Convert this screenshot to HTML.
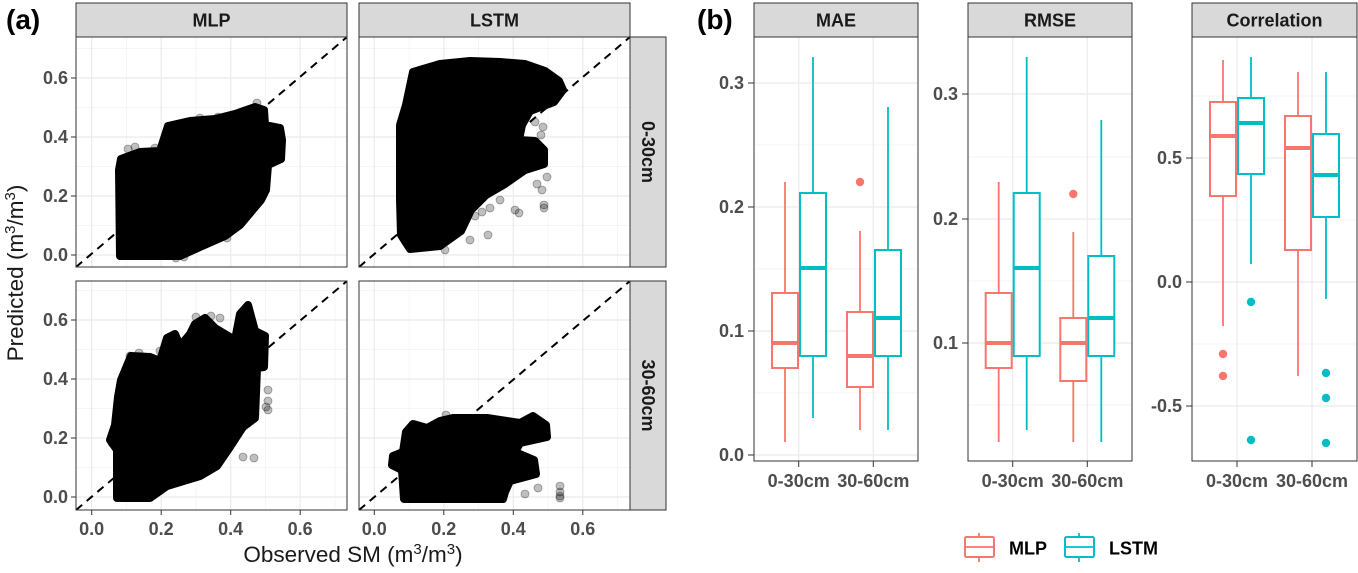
<!DOCTYPE html>
<html><head><meta charset="utf-8"><style>
html,body{margin:0;padding:0;background:#fff;}
svg{display:block;}
.tk{font-family:"Liberation Sans",sans-serif;font-weight:bold;font-size:18px;fill:#4d4d4d;}
.st{font-family:"Liberation Sans",sans-serif;font-weight:bold;font-size:18px;fill:#1a1a1a;}
.ti{font-family:"Liberation Sans",sans-serif;font-size:22.5px;fill:#1a1a1a;}
.lg{font-family:"Liberation Sans",sans-serif;font-weight:bold;font-size:18px;fill:#000;}
.pl{font-family:"Liberation Sans",sans-serif;font-weight:bold;font-size:28px;fill:#000;}
.gM{stroke:#ebebeb;stroke-width:1.2;}
.gm{stroke:#f2f2f2;stroke-width:0.7;}
.fz{fill:#000;fill-opacity:0.25;stroke:#000;stroke-opacity:0.35;stroke-width:0.8;}
.blob{fill:#000;stroke:#000;stroke-width:8;stroke-linejoin:round;}
.m{stroke:#F8766D;fill:#fff;stroke-width:2;}
.l{stroke:#00BFC4;fill:#fff;stroke-width:2;}
.mw{stroke:#F8766D;stroke-width:1.8;}
.lw{stroke:#00BFC4;stroke-width:1.8;}
.mm{stroke:#F8766D;stroke-width:4;}
.lm{stroke:#00BFC4;stroke-width:4;}
</style></head><body>
<svg width="1358" height="573" viewBox="0 0 1358 573" xmlns="http://www.w3.org/2000/svg">
<defs>
<clipPath id="c1"><rect x="76" y="37" width="271" height="230"/></clipPath>
<clipPath id="c2"><rect x="359" y="37" width="271" height="230"/></clipPath>
<clipPath id="c3"><rect x="76" y="281" width="271" height="229"/></clipPath>
<clipPath id="c4"><rect x="359" y="281" width="271" height="229"/></clipPath>
</defs>
<rect width="1358" height="573" fill="#fff"/>

<!-- panel labels -->
<text class="pl" x="6" y="29">(a)</text>
<text class="pl" x="697" y="29">(b)</text>

<!-- ============ (a) scatter panels ============ -->
<!-- MLP top -->
<g clip-path="url(#c1)">
<rect x="76" y="37" width="271" height="230" fill="#fff"/>
<g class="gm"><line x1="76" x2="347" y1="225.5" y2="225.5"/><line x1="76" x2="347" y1="166.5" y2="166.5"/><line x1="76" x2="347" y1="107.5" y2="107.5"/><line x1="76" x2="347" y1="48.5" y2="48.5"/>
<line y1="37" y2="267" x1="126.5" x2="126.5"/><line y1="37" y2="267" x1="196" x2="196"/><line y1="37" y2="267" x1="265.5" x2="265.5"/><line y1="37" y2="267" x1="335" x2="335"/></g>
<g class="gM"><line x1="76" x2="347" y1="255" y2="255"/><line x1="76" x2="347" y1="196" y2="196"/><line x1="76" x2="347" y1="137" y2="137"/><line x1="76" x2="347" y1="78" y2="78"/>
<line y1="37" y2="267" x1="91.7" x2="91.7"/><line y1="37" y2="267" x1="161.2" x2="161.2"/><line y1="37" y2="267" x1="230.7" x2="230.7"/><line y1="37" y2="267" x1="300.2" x2="300.2"/></g>
<polygon class="blob" points="119,170 121,159 140,152 160,151 168,126 190,121 215,119 235,114 255,107 264,110 265,125 280,128 282,140 281,159 268,165 266,190 261,200 240,225 225,236 200,247 180,256 120,256"/>
<g class="fz"><circle cx="257" cy="103" r="4"/><circle cx="218" cy="117" r="4"/><circle cx="222" cy="121" r="4"/><circle cx="135" cy="147" r="4"/><circle cx="128" cy="149" r="4"/><circle cx="227" cy="238" r="4"/><circle cx="176" cy="258" r="4"/><circle cx="184" cy="257" r="4"/><circle cx="262" cy="197" r="4"/><circle cx="200" cy="118" r="4"/><circle cx="155" cy="148" r="4"/></g>
<line x1="76" y1="267" x2="347" y2="37" stroke="#000" stroke-width="2" stroke-dasharray="8 6"/>
</g>
<rect x="76" y="37" width="271" height="230" fill="none" stroke="#333" stroke-width="1"/>

<!-- LSTM top -->
<g clip-path="url(#c2)">
<rect x="359" y="37" width="271" height="230" fill="#fff"/>
<g class="gm"><line x1="359" x2="630" y1="225.5" y2="225.5"/><line x1="359" x2="630" y1="166.5" y2="166.5"/><line x1="359" x2="630" y1="107.5" y2="107.5"/><line x1="359" x2="630" y1="48.5" y2="48.5"/>
<line y1="37" y2="267" x1="409.1" x2="409.1"/><line y1="37" y2="267" x1="478.6" x2="478.6"/><line y1="37" y2="267" x1="548.1" x2="548.1"/><line y1="37" y2="267" x1="617.6" x2="617.6"/></g>
<g class="gM"><line x1="359" x2="630" y1="255" y2="255"/><line x1="359" x2="630" y1="196" y2="196"/><line x1="359" x2="630" y1="137" y2="137"/><line x1="359" x2="630" y1="78" y2="78"/>
<line y1="37" y2="267" x1="374.3" x2="374.3"/><line y1="37" y2="267" x1="443.8" x2="443.8"/><line y1="37" y2="267" x1="513.3" x2="513.3"/><line y1="37" y2="267" x1="582.8" x2="582.8"/></g>
<polygon class="blob" points="400,125 406,105 413,72 440,64 470,61 500,62 525,64 545,71 559,81 563,90 554,102 530,111 522,125 519,140 535,141 544,150 544,164 525,170 505,184 486,195 471,210 461,231 440,246 410,249 401,235 400,200"/>
<g class="fz"><circle cx="475" cy="216" r="4"/><circle cx="482" cy="212" r="4"/><circle cx="490" cy="208" r="4"/><circle cx="515" cy="210" r="4"/><circle cx="519" cy="213" r="4"/><circle cx="544" cy="205" r="4"/><circle cx="544" cy="208" r="4"/><circle cx="542" cy="190" r="4"/><circle cx="537" cy="184" r="4"/><circle cx="547" cy="177" r="4"/><circle cx="541" cy="135" r="4"/><circle cx="543" cy="127" r="4"/><circle cx="470" cy="240" r="4"/><circle cx="488" cy="235" r="4"/><circle cx="445" cy="250" r="4"/><circle cx="535" cy="122" r="4"/><circle cx="500" cy="200" r="4"/></g>
<line x1="359" y1="267" x2="630" y2="37" stroke="#000" stroke-width="2" stroke-dasharray="8 6"/>
</g>
<rect x="359" y="37" width="271" height="230" fill="none" stroke="#333" stroke-width="1"/>

<!-- MLP bottom -->
<g clip-path="url(#c3)">
<rect x="76" y="281" width="271" height="229" fill="#fff"/>
<g class="gm"><line x1="76" x2="347" y1="467.5" y2="467.5"/><line x1="76" x2="347" y1="408.5" y2="408.5"/><line x1="76" x2="347" y1="349.5" y2="349.5"/><line x1="76" x2="347" y1="290.5" y2="290.5"/>
<line y1="281" y2="510" x1="126.5" x2="126.5"/><line y1="281" y2="510" x1="196" x2="196"/><line y1="281" y2="510" x1="265.5" x2="265.5"/><line y1="281" y2="510" x1="335" x2="335"/></g>
<g class="gM"><line x1="76" x2="347" y1="497" y2="497"/><line x1="76" x2="347" y1="438" y2="438"/><line x1="76" x2="347" y1="379" y2="379"/><line x1="76" x2="347" y1="320" y2="320"/>
<line y1="281" y2="510" x1="91.7" x2="91.7"/><line y1="281" y2="510" x1="161.2" x2="161.2"/><line y1="281" y2="510" x1="230.7" x2="230.7"/><line y1="281" y2="510" x1="300.2" x2="300.2"/></g>
<polygon class="blob" points="115,425 110,440 117,450 117,498 150,498 167,486 200,476 217,466 230,447 243,427 255,418 257,368 264,367 265,336 255,331 248,305 240,314 235,340 225,334 215,328 205,318 195,324 190,334 180,346 175,334 167,338 160,361 150,357 131,356 121,380 118,397"/>
<g class="fz"><circle cx="268" cy="390" r="4"/><circle cx="268" cy="401" r="4"/><circle cx="266" cy="407" r="4"/><circle cx="268" cy="410" r="4"/><circle cx="243" cy="457" r="4"/><circle cx="254" cy="458" r="4"/><circle cx="112" cy="443" r="4"/><circle cx="130" cy="356" r="4"/><circle cx="139" cy="353" r="4"/><circle cx="196" cy="317" r="4"/><circle cx="211" cy="316" r="4"/><circle cx="220" cy="318" r="4"/><circle cx="200" cy="474" r="4"/><circle cx="160" cy="351" r="4"/></g>
<line x1="76" y1="510" x2="347" y2="281" stroke="#000" stroke-width="2" stroke-dasharray="8 6"/>
</g>
<rect x="76" y="281" width="271" height="229" fill="none" stroke="#333" stroke-width="1"/>

<!-- LSTM bottom -->
<g clip-path="url(#c4)">
<rect x="359" y="281" width="271" height="229" fill="#fff"/>
<g class="gm"><line x1="359" x2="630" y1="467.5" y2="467.5"/><line x1="359" x2="630" y1="408.5" y2="408.5"/><line x1="359" x2="630" y1="349.5" y2="349.5"/><line x1="359" x2="630" y1="290.5" y2="290.5"/>
<line y1="281" y2="510" x1="409.1" x2="409.1"/><line y1="281" y2="510" x1="478.6" x2="478.6"/><line y1="281" y2="510" x1="548.1" x2="548.1"/><line y1="281" y2="510" x1="617.6" x2="617.6"/></g>
<g class="gM"><line x1="359" x2="630" y1="497" y2="497"/><line x1="359" x2="630" y1="438" y2="438"/><line x1="359" x2="630" y1="379" y2="379"/><line x1="359" x2="630" y1="320" y2="320"/>
<line y1="281" y2="510" x1="374.3" x2="374.3"/><line y1="281" y2="510" x1="443.8" x2="443.8"/><line y1="281" y2="510" x1="513.3" x2="513.3"/><line y1="281" y2="510" x1="582.8" x2="582.8"/></g>
<polygon class="blob" points="406,432 413,424 427,428 440,421 453,418 487,418 520,423 533,416 546,425 547,437 520,443 515,452 534,460 536,474 510,481 505,492 503,499 404,499 402,470 392,465 393,456 403,452"/>
<g class="fz"><circle cx="525" cy="494" r="4"/><circle cx="538" cy="488" r="4"/><circle cx="560" cy="486" r="4"/><circle cx="560" cy="492" r="4"/><circle cx="560" cy="496" r="4"/><circle cx="560" cy="498" r="4"/><circle cx="530" cy="470" r="4"/><circle cx="534" cy="464" r="4"/><circle cx="446" cy="415" r="4"/></g>
<line x1="359" y1="510" x2="630" y2="281" stroke="#000" stroke-width="2" stroke-dasharray="8 6"/>
</g>
<rect x="359" y="281" width="271" height="229" fill="none" stroke="#333" stroke-width="1"/>

<!-- strips (a) -->
<rect x="76" y="3" width="271" height="34" fill="#d9d9d9" stroke="#333" stroke-width="1"/>
<text class="st" x="211.5" y="26.5" text-anchor="middle">MLP</text>
<rect x="359" y="3" width="271" height="34" fill="#d9d9d9" stroke="#333" stroke-width="1"/>
<text class="st" x="494.5" y="26.5" text-anchor="middle">LSTM</text>
<rect x="630" y="37" width="36" height="230" fill="#d9d9d9" stroke="#333" stroke-width="1"/>
<text class="st" transform="translate(642,152) rotate(90)" text-anchor="middle">0-30cm</text>
<rect x="630" y="281" width="36" height="229" fill="#d9d9d9" stroke="#333" stroke-width="1"/>
<text class="st" transform="translate(642,395.5) rotate(90)" text-anchor="middle">30-60cm</text>

<!-- y ticks (a) -->
<g stroke="#333" stroke-width="1">
<line x1="71" x2="76" y1="78" y2="78"/><line x1="71" x2="76" y1="137" y2="137"/><line x1="71" x2="76" y1="196" y2="196"/><line x1="71" x2="76" y1="255" y2="255"/>
<line x1="71" x2="76" y1="320" y2="320"/><line x1="71" x2="76" y1="379" y2="379"/><line x1="71" x2="76" y1="438" y2="438"/><line x1="71" x2="76" y1="497" y2="497"/>
<line y1="510" y2="515" x1="91.7" x2="91.7"/><line y1="510" y2="515" x1="161.2" x2="161.2"/><line y1="510" y2="515" x1="230.7" x2="230.7"/><line y1="510" y2="515" x1="300.2" x2="300.2"/>
<line y1="510" y2="515" x1="374.3" x2="374.3"/><line y1="510" y2="515" x1="443.8" x2="443.8"/><line y1="510" y2="515" x1="513.3" x2="513.3"/><line y1="510" y2="515" x1="582.8" x2="582.8"/>
</g>
<g class="tk" text-anchor="end">
<text x="68" y="84">0.6</text><text x="68" y="143">0.4</text><text x="68" y="202">0.2</text><text x="68" y="261">0.0</text>
<text x="68" y="326">0.6</text><text x="68" y="385">0.4</text><text x="68" y="444">0.2</text><text x="68" y="503">0.0</text>
</g>
<g class="tk" text-anchor="middle">
<text x="91.7" y="535">0.0</text><text x="161.2" y="535">0.2</text><text x="230.7" y="535">0.4</text><text x="300.2" y="535">0.6</text>
<text x="374.3" y="535">0.0</text><text x="443.8" y="535">0.2</text><text x="513.3" y="535">0.4</text><text x="582.8" y="535">0.6</text>
</g>
<text class="ti" x="353" y="562" text-anchor="middle">Observed SM (m<tspan font-size="15" dy="-8">3</tspan><tspan dy="8">/m</tspan><tspan font-size="15" dy="-8">3</tspan><tspan dy="8">)</tspan></text>
<text class="ti" transform="translate(23,273) rotate(-90)" text-anchor="middle">Predicted (m<tspan font-size="15" dy="-8">3</tspan><tspan dy="8">/m</tspan><tspan font-size="15" dy="-8">3</tspan><tspan dy="8">)</tspan></text>

<!-- ============ (b) box plots ============ -->
<!-- MAE -->
<rect x="754" y="37" width="164" height="424" fill="#fff"/>
<g class="gm"><line x1="754" x2="918" y1="393" y2="393"/><line x1="754" x2="918" y1="269" y2="269"/><line x1="754" x2="918" y1="145" y2="145"/></g>
<g class="gM"><line x1="754" x2="918" y1="455" y2="455"/><line x1="754" x2="918" y1="331" y2="331"/><line x1="754" x2="918" y1="207" y2="207"/><line x1="754" x2="918" y1="83" y2="83"/>
<line y1="37" y2="461" x1="798.7" x2="798.7"/><line y1="37" y2="461" x1="873.3" x2="873.3"/></g>
<line class="mw" x1="785" x2="785" y1="442" y2="182"/><rect class="m" x="772" y="293" width="26" height="75"/><line class="mm" x1="772" x2="798" y1="343" y2="343"/>
<line class="lw" x1="813" x2="813" y1="418" y2="57"/><rect class="l" x="800" y="193" width="26" height="163"/><line class="lm" x1="800" x2="826" y1="268" y2="268"/>
<line class="mw" x1="860" x2="860" y1="430" y2="231"/><rect class="m" x="847" y="312" width="26" height="75"/><line class="mm" x1="847" x2="873" y1="356" y2="356"/>
<circle cx="860" cy="182" r="4.2" fill="#F8766D"/>
<line class="lw" x1="888" x2="888" y1="430" y2="107"/><rect class="l" x="875" y="250" width="26" height="106"/><line class="lm" x1="875" x2="901" y1="318" y2="318"/>
<rect x="754" y="37" width="164" height="424" fill="none" stroke="#333" stroke-width="1"/>
<rect x="754" y="3" width="164" height="34" fill="#d9d9d9" stroke="#333" stroke-width="1"/>
<text class="st" x="836" y="26.5" text-anchor="middle">MAE</text>
<g stroke="#333" stroke-width="1"><line x1="748" x2="754" y1="455" y2="455"/><line x1="748" x2="754" y1="331" y2="331"/><line x1="748" x2="754" y1="207" y2="207"/><line x1="748" x2="754" y1="83" y2="83"/>
<line y1="461" y2="467" x1="798.7" x2="798.7"/><line y1="461" y2="467" x1="873.3" x2="873.3"/></g>
<g class="tk" text-anchor="end"><text x="744" y="461">0.0</text><text x="744" y="337">0.1</text><text x="744" y="213">0.2</text><text x="744" y="89">0.3</text></g>
<g class="tk" text-anchor="middle"><text x="798.7" y="487">0-30cm</text><text x="873.3" y="487">30-60cm</text></g>

<!-- RMSE -->
<rect x="968" y="37" width="164" height="424" fill="#fff"/>
<g class="gm"><line x1="968" x2="1132" y1="405" y2="405"/><line x1="968" x2="1132" y1="281" y2="281"/><line x1="968" x2="1132" y1="157" y2="157"/></g>
<g class="gM"><line x1="968" x2="1132" y1="343" y2="343"/><line x1="968" x2="1132" y1="219" y2="219"/><line x1="968" x2="1132" y1="94" y2="94"/>
<line y1="37" y2="461" x1="1012.7" x2="1012.7"/><line y1="37" y2="461" x1="1087.3" x2="1087.3"/></g>
<line class="mw" x1="998.7" x2="998.7" y1="442" y2="182"/><rect class="m" x="985.7" y="293" width="26" height="75"/><line class="mm" x1="985.7" x2="1011.7" y1="343" y2="343"/>
<line class="lw" x1="1026.7" x2="1026.7" y1="430" y2="57"/><rect class="l" x="1013.7" y="193" width="26" height="163"/><line class="lm" x1="1013.7" x2="1039.7" y1="268" y2="268"/>
<line class="mw" x1="1073.3" x2="1073.3" y1="442" y2="232"/><rect class="m" x="1060.3" y="318" width="26" height="63"/><line class="mm" x1="1060.3" x2="1086.3" y1="343" y2="343"/>
<circle cx="1073.3" cy="194" r="4.2" fill="#F8766D"/>
<line class="lw" x1="1101.3" x2="1101.3" y1="442" y2="120"/><rect class="l" x="1088.3" y="256" width="26" height="100"/><line class="lm" x1="1088.3" x2="1114.3" y1="318" y2="318"/>
<rect x="968" y="37" width="164" height="424" fill="none" stroke="#333" stroke-width="1"/>
<rect x="968" y="3" width="164" height="34" fill="#d9d9d9" stroke="#333" stroke-width="1"/>
<text class="st" x="1050" y="26.5" text-anchor="middle">RMSE</text>
<g stroke="#333" stroke-width="1"><line x1="962" x2="968" y1="343" y2="343"/><line x1="962" x2="968" y1="219" y2="219"/><line x1="962" x2="968" y1="94" y2="94"/>
<line y1="461" y2="467" x1="1012.7" x2="1012.7"/><line y1="461" y2="467" x1="1087.3" x2="1087.3"/></g>
<g class="tk" text-anchor="end"><text x="958" y="349">0.1</text><text x="958" y="225">0.2</text><text x="958" y="100">0.3</text></g>
<g class="tk" text-anchor="middle"><text x="1012.7" y="487">0-30cm</text><text x="1087.3" y="487">30-60cm</text></g>

<!-- Correlation -->
<rect x="1192" y="37" width="165" height="424" fill="#fff"/>
<g class="gm"><line x1="1192" x2="1357" y1="406" y2="406"/><line x1="1192" x2="1357" y1="344" y2="344"/><line x1="1192" x2="1357" y1="220" y2="220"/><line x1="1192" x2="1357" y1="96" y2="96"/></g>
<g class="gM"><line x1="1192" x2="1357" y1="406" y2="406"/><line x1="1192" x2="1357" y1="282" y2="282"/><line x1="1192" x2="1357" y1="158" y2="158"/>
<line y1="37" y2="461" x1="1237" x2="1237"/><line y1="37" y2="461" x1="1312" x2="1312"/></g>
<line class="mw" x1="1223" x2="1223" y1="326" y2="60"/><rect class="m" x="1210" y="102" width="26" height="94"/><line class="mm" x1="1210" x2="1236" y1="136" y2="136"/>
<circle cx="1223" cy="354" r="4.2" fill="#F8766D"/><circle cx="1223" cy="376" r="4.2" fill="#F8766D"/>
<line class="lw" x1="1251" x2="1251" y1="264" y2="57"/><rect class="l" x="1238" y="98" width="26" height="76"/><line class="lm" x1="1238" x2="1264" y1="123" y2="123"/>
<circle cx="1251" cy="302" r="4.2" fill="#00BFC4"/><circle cx="1251" cy="440" r="4.2" fill="#00BFC4"/>
<line class="mw" x1="1298" x2="1298" y1="376" y2="72"/><rect class="m" x="1285" y="116" width="26" height="134"/><line class="mm" x1="1285" x2="1311" y1="148" y2="148"/>
<line class="lw" x1="1326" x2="1326" y1="299" y2="72"/><rect class="l" x="1313" y="134" width="26" height="83"/><line class="lm" x1="1313" x2="1339" y1="175" y2="175"/>
<circle cx="1326" cy="373" r="4.2" fill="#00BFC4"/><circle cx="1326" cy="398" r="4.2" fill="#00BFC4"/><circle cx="1326" cy="443" r="4.2" fill="#00BFC4"/>
<rect x="1192" y="37" width="165" height="424" fill="none" stroke="#333" stroke-width="1"/>
<rect x="1192" y="3" width="165" height="34" fill="#d9d9d9" stroke="#333" stroke-width="1"/>
<text class="st" x="1274.5" y="26.5" text-anchor="middle">Correlation</text>
<g stroke="#333" stroke-width="1"><line x1="1186" x2="1192" y1="406" y2="406"/><line x1="1186" x2="1192" y1="282" y2="282"/><line x1="1186" x2="1192" y1="158" y2="158"/>
<line y1="461" y2="467" x1="1237" x2="1237"/><line y1="461" y2="467" x1="1312" x2="1312"/></g>
<g class="tk" text-anchor="end"><text x="1182" y="412">-0.5</text><text x="1182" y="288">0.0</text><text x="1182" y="164">0.5</text></g>
<g class="tk" text-anchor="middle"><text x="1237" y="487">0-30cm</text><text x="1312" y="487">30-60cm</text></g>

<!-- legend -->
<line class="mw" x1="979" x2="979" y1="533" y2="562"/>
<rect x="965" y="537" width="29" height="20" rx="1.5" fill="#fff" stroke="#F8766D" stroke-width="2"/>
<line class="mw" x1="965" x2="994" y1="547" y2="547"/>
<text class="lg" x="1009" y="554.5">MLP</text>
<line class="lw" x1="1079" x2="1079" y1="533" y2="562"/>
<rect x="1065" y="537" width="29" height="20" rx="1.5" fill="#fff" stroke="#00BFC4" stroke-width="2"/>
<line class="lw" x1="1065" x2="1094" y1="547" y2="547"/>
<text class="lg" x="1109" y="554.5">LSTM</text>
</svg>
</body></html>
